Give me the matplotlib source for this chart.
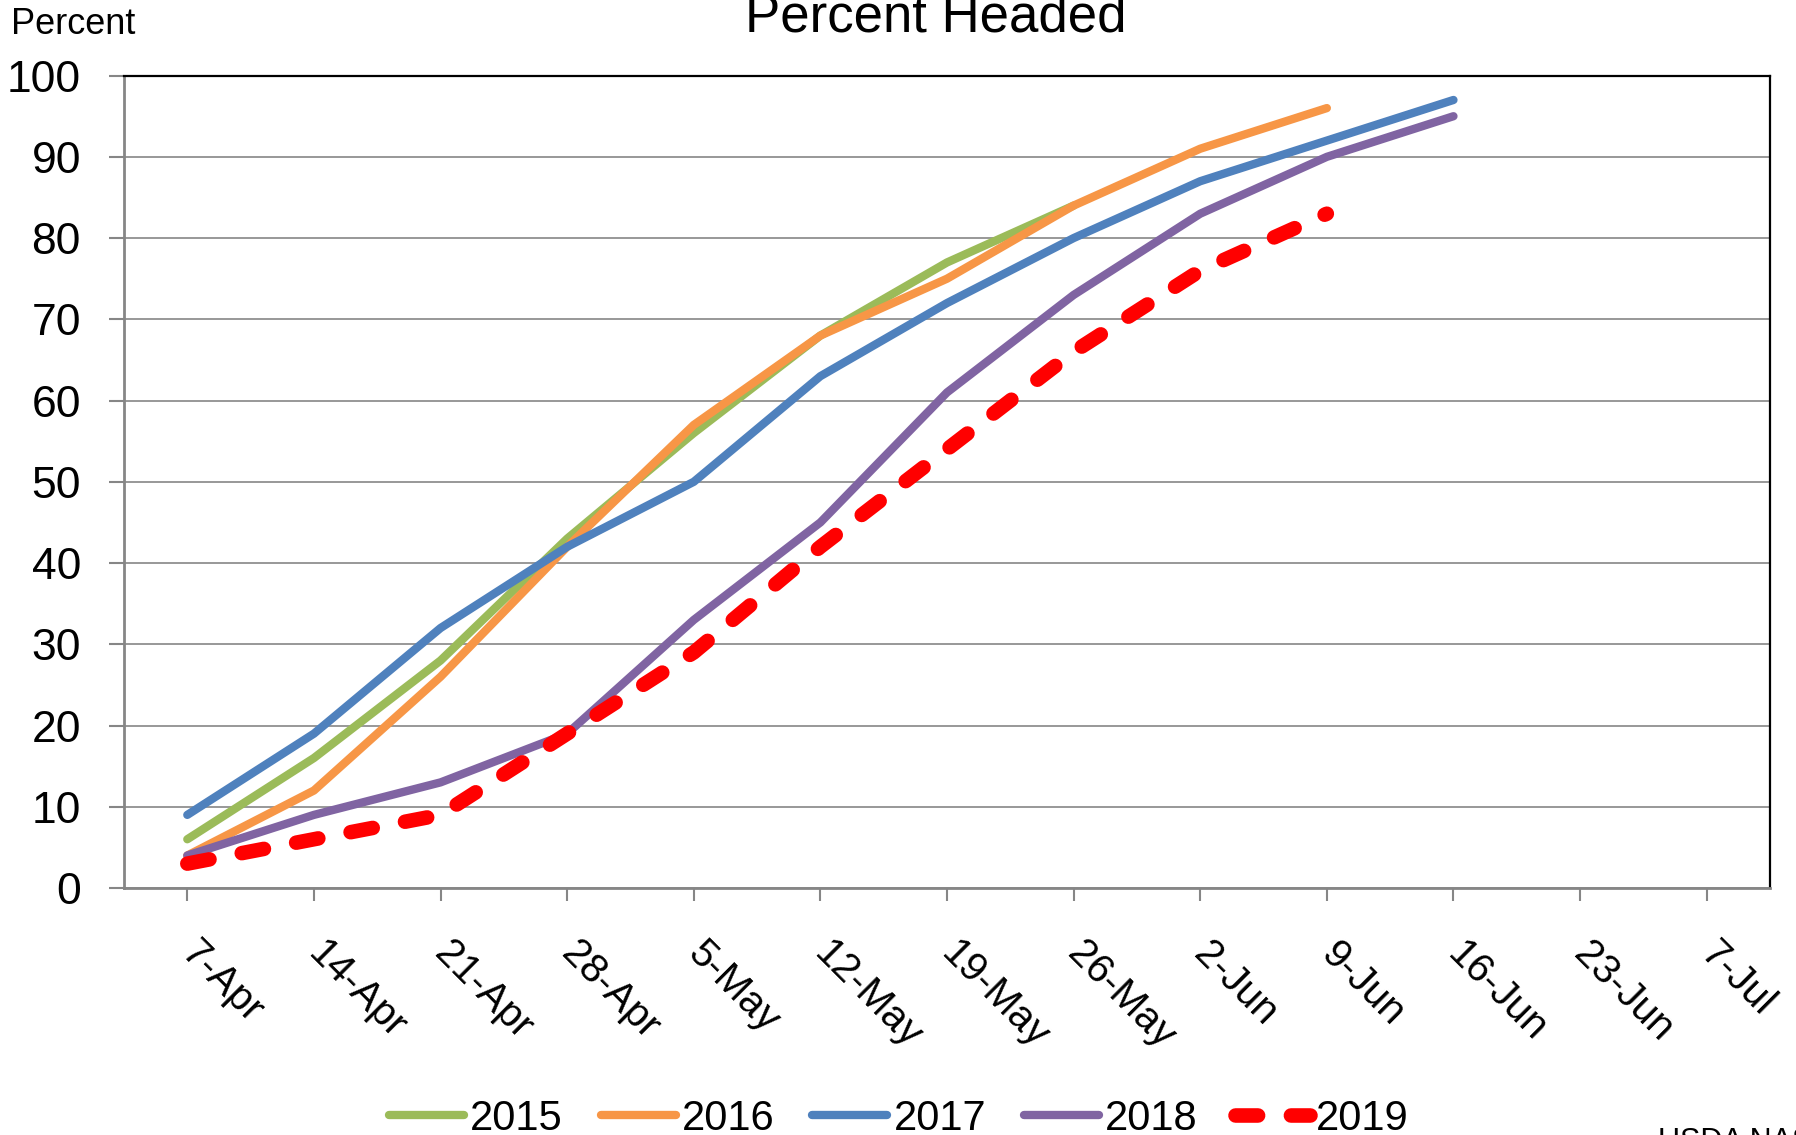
import matplotlib
matplotlib.use('Agg')
import matplotlib.pyplot as plt

dates = ['7-Apr', '14-Apr', '21-Apr', '28-Apr', '5-May', '12-May', '19-May',
         '26-May', '2-Jun', '9-Jun', '16-Jun', '23-Jun', '7-Jul']
y2015 = [6, 16, 28, 43, 56, 68, 77, 84]
y2016 = [4, 12, 26, 42, 57, 68, 75, 84, 91, 96]
y2017 = [9, 19, 32, 42, 50, 63, 72, 80, 87, 92, 97]
y2018 = [4, 9, 13, 19, 33, 45, 61, 73, 83, 90, 95]
y2019 = [3, 6, 9, 19, 29, 42, 54, 66, 76, 83]
yticks = list(range(0, 101, 10))

plt.rcParams['font.family'] = ['Liberation Sans', 'DejaVu Sans']

W, H = 1796, 1135
fig = plt.figure(figsize=(W / 100, H / 100), dpi=100)
ax = fig.add_axes([124 / W, 1 - 888 / H, 1646 / W, (888 - 75.6) / H])

common = dict(solid_capstyle='round', solid_joinstyle='round')
ax.plot(range(len(y2015)), y2015, color='#9BBB59', lw=6, label='2015', zorder=3, **common)
ax.plot(range(len(y2016)), y2016, color='#F79646', lw=6, label='2016', zorder=4, **common)
ax.plot(range(len(y2017)), y2017, color='#4F81BD', lw=6, label='2017', zorder=5, **common)
ax.plot(range(len(y2018)), y2018, color='#8064A2', lw=6, label='2018', zorder=6, **common)
ax.plot(range(len(y2019)), y2019, color='#FF0000', lw=10.5, label='2019', zorder=7,
        linestyle=(0, (1.55, 2.25)), dash_capstyle='round', dash_joinstyle='round')

ax.set_xlim(-0.5, len(dates) - 0.5)
ax.set_ylim(0, 100)
ax.set_yticks(yticks)
ax.set_xticks(range(len(dates)))
ax.set_xticklabels(dates)

ax.grid(axis='y', color='#868686', lw=1.2)
ax.set_axisbelow(True)
for s in ['left', 'bottom']:
    ax.spines[s].set_color('#868686')
    ax.spines[s].set_linewidth(2)
for s in ['top', 'right']:
    ax.spines[s].set_color('black')
    ax.spines[s].set_linewidth(1.6)

ax.tick_params(axis='y', length=11, width=1.5, color='#868686', labelsize=32, pad=20)
ax.tick_params(axis='x', length=9, width=1.5, color='#868686', labelsize=29, pad=34)
for lab in ax.get_xticklabels():
    lab.set_rotation(-45)
    lab.set_ha('left')
    lab.set_va('center')
    lab.set_rotation_mode('anchor')

fig.text(936 / W, 1 - 32 / H, 'Percent Headed', ha='center', va='baseline', fontsize=38)
fig.text(11 / W, 1 - 34 / H, 'Percent', ha='left', va='baseline', fontsize=26)
fig.text(1658 / W, 1 - 1127 / H, 'USDA NASS', ha='left', va='top', fontsize=22)

handles, labels = ax.get_legend_handles_labels()
fig.legend(handles, labels, loc='center', bbox_to_anchor=(899 / W, 1 - 1119 / H), ncol=5,
           frameon=False, fontsize=30, handlelength=1.8, handletextpad=0.15,
           columnspacing=0.9)

fig.savefig('out.png', dpi=100)
